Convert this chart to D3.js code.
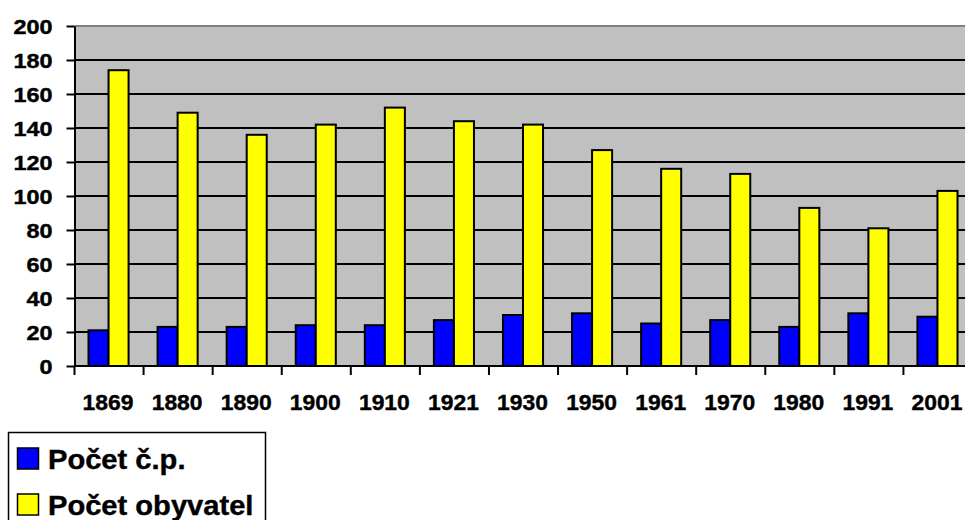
<!DOCTYPE html>
<html>
<head>
<meta charset="utf-8">
<script src="https://cdn.jsdelivr.net/npm/d3@7"></script>
<style>
  html, body { margin: 0; padding: 0; background: #fff; }
  svg { display: block; font-family: "Liberation Sans", Arial, sans-serif; font-weight: bold; }
  text { stroke: #000; stroke-width: 0.4px; }
</style>
</head>
<body>
<svg id="chart" width="965" height="520"></svg>
<script>
// Census years and the two series per year
const years = ["1869", "1880", "1890", "1900", "1910", "1921", "1930", "1950", "1961", "1970", "1980", "1991", "2001"];
const houses = [21, 23, 23, 24, 24, 27, 30, 31, 25, 27, 23, 31, 29];        // Počet č.p.
const inhabitants = [174, 149, 136, 142, 152, 144, 142, 127, 116, 113, 93, 81, 103]; // Počet obyvatel
const seriesNames = ["Počet č.p.", "Počet obyvatel"];
const seriesColors = ["#0000FF", "#FFFF00"];
const yTicks = [0, 20, 40, 60, 80, 100, 120, 140, 160, 180, 200];

const svg = d3.select("#chart");
const plot = { left: 74.5, right: 972.5, top: 26, bottom: 366 };

const x = d3.scaleBand().domain(years).range([plot.left, plot.right]).padding(0);
const groupW = x.bandwidth() * 0.58;
const x1 = d3.scaleBand().domain([0, 1]).range([0, groupW]).padding(0);
const y = d3.scaleLinear().domain([0, 200]).range([plot.bottom, plot.top]);

// Plot background
svg.append("rect")
  .attr("x", plot.left).attr("y", plot.top)
  .attr("width", plot.right - plot.left).attr("height", plot.bottom - plot.top)
  .attr("fill", "#C0C0C0");

// Top border of the plot area
svg.append("line")
  .attr("x1", plot.left).attr("x2", plot.right)
  .attr("y1", y(200)).attr("y2", y(200))
  .attr("stroke", "#808080").attr("stroke-width", 2);

// Horizontal gridlines
svg.append("g").selectAll("line")
  .data(yTicks.filter(d => d > 0 && d < 200))
  .join("line")
  .attr("x1", plot.left).attr("x2", plot.right)
  .attr("y1", d => y(d)).attr("y2", d => y(d))
  .attr("stroke", "#000").attr("stroke-width", 2);

// Bars
const rows = years.map((yr, i) => ({ year: yr, values: [houses[i], inhabitants[i]] }));
const groups = svg.append("g").selectAll("g")
  .data(rows)
  .join("g")
  .attr("transform", d => `translate(${x(d.year) + (x.bandwidth() - groupW) / 2 - 0.5},0)`);
groups.selectAll("rect")
  .data(d => d.values.map((v, k) => ({ v, k })))
  .join("rect")
  .attr("x", d => x1(d.k))
  .attr("width", x1.bandwidth())
  .attr("y", d => y(d.v))
  .attr("height", d => y(0) - y(d.v))
  .attr("fill", d => seriesColors[d.k])
  .attr("stroke", "#000").attr("stroke-width", 2);

// Y axis
const yAxis = svg.append("g")
  .attr("transform", `translate(${plot.left},0)`)
  .call(d3.axisLeft(y).tickValues(yTicks).tickSize(8).tickSizeOuter(0).tickPadding(0));
yAxis.select(".domain").attr("stroke", "#000").attr("stroke-width", 2);
yAxis.selectAll(".tick line").attr("stroke", "#000").attr("stroke-width", 2);
yAxis.selectAll(".tick text").remove();
yAxis.selectAll(".tick").append("text")
  .attr("text-anchor", "end")
  .attr("dy", "0.36em")
  .attr("transform", "translate(-22,0) scale(1.2,1)")
  .attr("fill", "#000")
  .style("font-size", "19.5px")
  .style("font-weight", "bold")
  .style("font-family", "'Liberation Sans', Arial, sans-serif")
  .text(d => d);

// X axis line
svg.append("line")
  .attr("x1", plot.left).attr("x2", plot.right)
  .attr("y1", plot.bottom).attr("y2", plot.bottom)
  .attr("stroke", "#000").attr("stroke-width", 2);

// X tick marks at category boundaries
svg.append("g").selectAll("line")
  .data(years)
  .join("line")
  .attr("x1", d => x(d)).attr("x2", d => x(d))
  .attr("y1", plot.bottom).attr("y2", plot.bottom + 9)
  .attr("stroke", "#000").attr("stroke-width", 2);

// X labels
svg.append("g").selectAll("text")
  .data(years)
  .join("text")
  .attr("text-anchor", "middle")
  .attr("transform", d => `translate(${x(d) + x.bandwidth() / 2 - 1},410) scale(1.04,1)`)
  .style("font-size", "22px")
  .attr("fill", "#000")
  .text(d => d);

// Legend
const legend = svg.append("g");
legend.append("rect")
  .attr("x", 8.5).attr("y", 432.5)
  .attr("width", 257).attr("height", 120)
  .attr("fill", "#fff").attr("stroke", "#000").attr("stroke-width", 1.5);
const legendRows = [{ y: 458 }, { y: 504 }];
seriesNames.forEach((name, i) => {
  legend.append("rect")
    .attr("x", 17.5).attr("y", legendRows[i].y - 10)
    .attr("width", 21).attr("height", 21)
    .attr("fill", seriesColors[i]).attr("stroke", "#000").attr("stroke-width", 1.5);
  legend.append("text")
    .attr("transform", `translate(48,${legendRows[i].y + 11}) scale(1.04,1)`)
    .style("font-size", "28px")
    .attr("fill", "#000")
    .text(name);
});
</script>
</body>
</html>
